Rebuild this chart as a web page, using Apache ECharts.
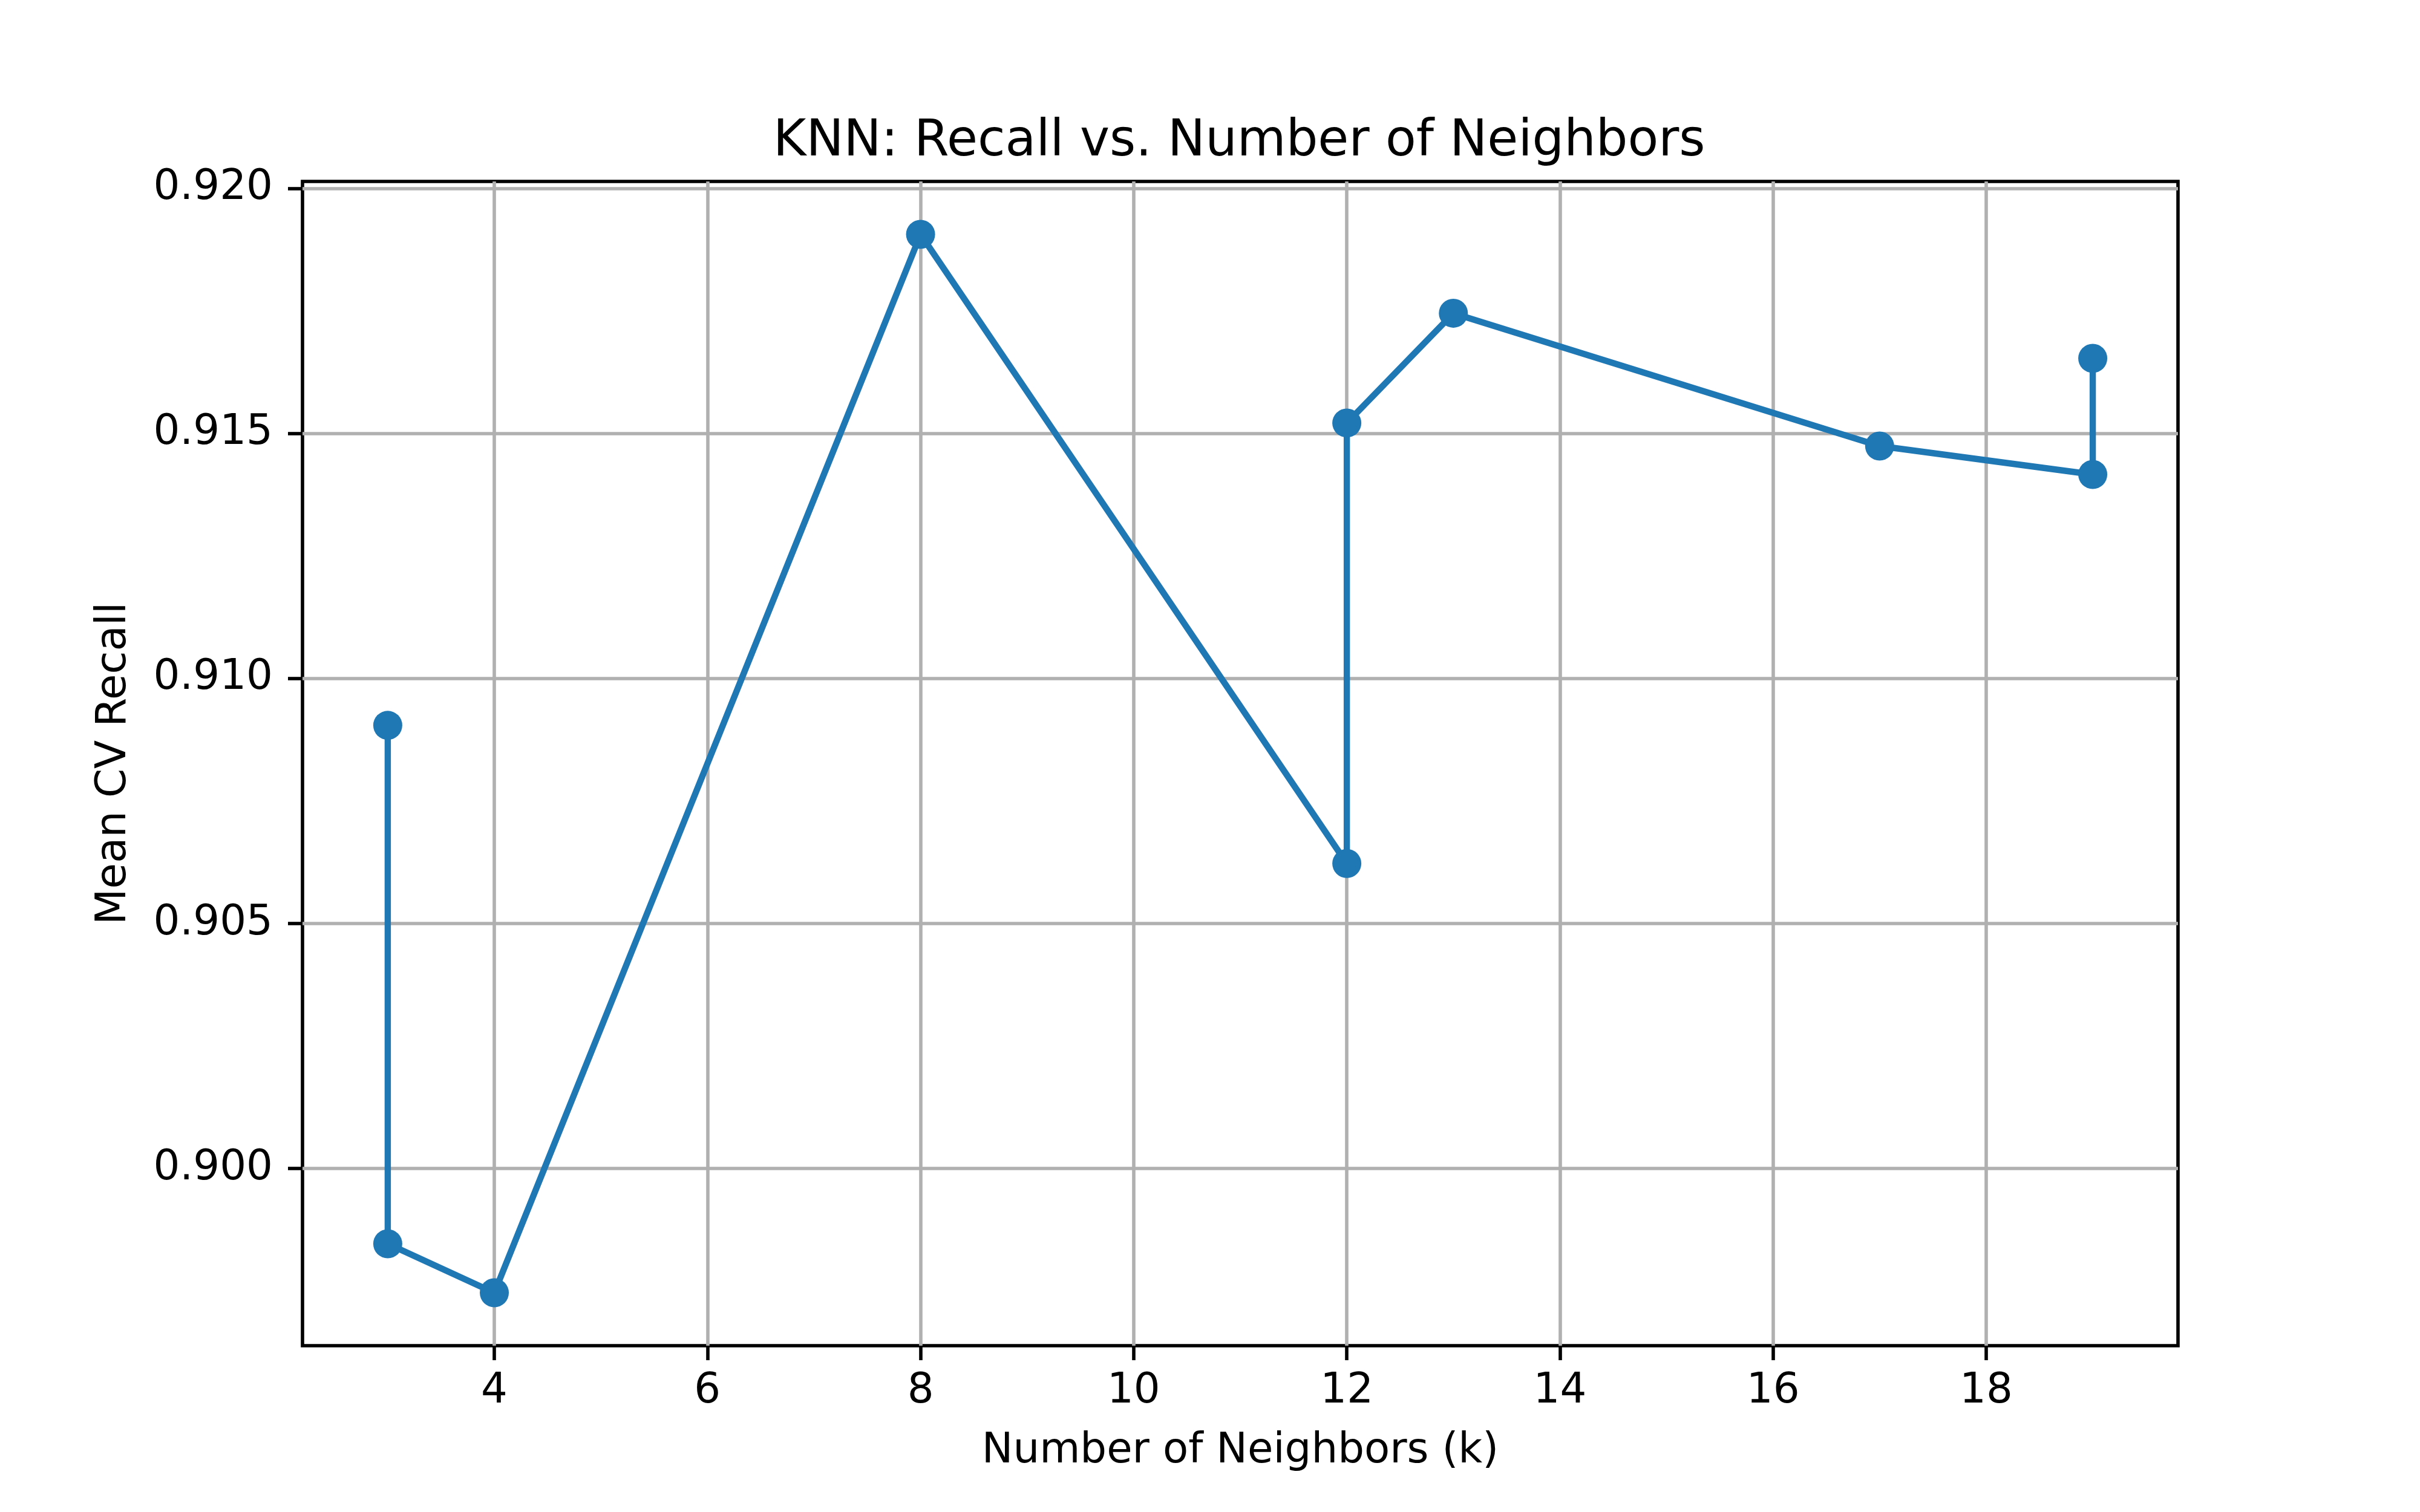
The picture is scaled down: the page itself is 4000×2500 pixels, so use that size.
<!DOCTYPE html>
<html>
<head>
<meta charset="utf-8">
<script src="https://cdn.jsdelivr.net/npm/echarts@6/dist/echarts.min.js"></script>
<style>
  html, body { margin: 0; padding: 0; background: #fff; }
  #chart { width: 4000px; height: 2500px; }
</style>
</head>
<body>
<div id="chart"></div>
<script>
// k values in plotted order (some k appear twice)
const neighbors = [3, 3, 4, 8, 12, 12, 13, 17, 19, 19]
const recall = [0.90904, 0.89846, 0.89746, 0.91906, 0.90622, 0.91521, 0.91745, 0.91474, 0.91416, 0.91653]
const xTicks = [4, 6, 8, 10, 12, 14, 16, 18]
const yTicks = [0.900, 0.905, 0.910, 0.915, 0.920]

const points = neighbors.map((k, i) => [k, recall[i]])

const font = 'DejaVu Sans'
const chart = echarts.init(document.getElementById('chart'))

chart.setOption({
  animation: false,
  backgroundColor: '#fff',
  // title is centred over the plot area, not the page
  title: {
    text: 'KNN: Recall vs. Number of Neighbors',
    left: 1278,
    top: 194,
    padding: 0,
    textStyle: { fontFamily: font, fontSize: 83, fontWeight: 'normal', color: '#000' },
  },
  grid: {
    left: 500,
    right: 400,
    top: 300,
    bottom: 275,
    show: true,
    borderColor: '#000',
    borderWidth: 5.6,
    backgroundColor: 'transparent',
  },
  xAxis: {
    type: 'value',
    min: 2.2,
    max: 19.8,
    name: 'Number of Neighbors (k)',
    nameLocation: 'middle',
    nameGap: 141,
    nameTextStyle: { fontFamily: font, fontSize: 69, color: '#000' },
    axisLine: { show: false },
    axisTick: {
      show: true,
      length: 24,
      lineStyle: { color: '#000', width: 5.6 },
      customValues: xTicks,
    },
    axisLabel: {
      fontFamily: font,
      fontSize: 69,
      color: '#000',
      margin: 42,
      customValues: xTicks,
    },
    splitLine: { show: true, lineStyle: { color: '#b0b0b0', width: 5.6 } },
  },
  yAxis: {
    type: 'value',
    min: 0.89638,
    max: 0.92014,
    name: 'Mean CV Recall',
    nameLocation: 'middle',
    nameGap: 276,
    nameTextStyle: { fontFamily: font, fontSize: 69, color: '#000' },
    axisLine: { show: false },
    axisTick: {
      show: true,
      length: 24,
      lineStyle: { color: '#000', width: 5.6 },
      customValues: yTicks,
    },
    axisLabel: {
      fontFamily: font,
      fontSize: 69,
      color: '#000',
      margin: 49,
      customValues: yTicks,
      formatter: (v) => v.toFixed(3),
    },
    splitLine: { show: true, lineStyle: { color: '#b0b0b0', width: 5.6 } },
  },
  series: [
    {
      type: 'line',
      data: points,
      symbol: 'circle',
      symbolSize: 48,
      lineStyle: { color: '#1f77b4', width: 10.4 },
      itemStyle: { color: '#1f77b4' },
      z: 5,
    },
  ],
})
</script>
</body>
</html>
